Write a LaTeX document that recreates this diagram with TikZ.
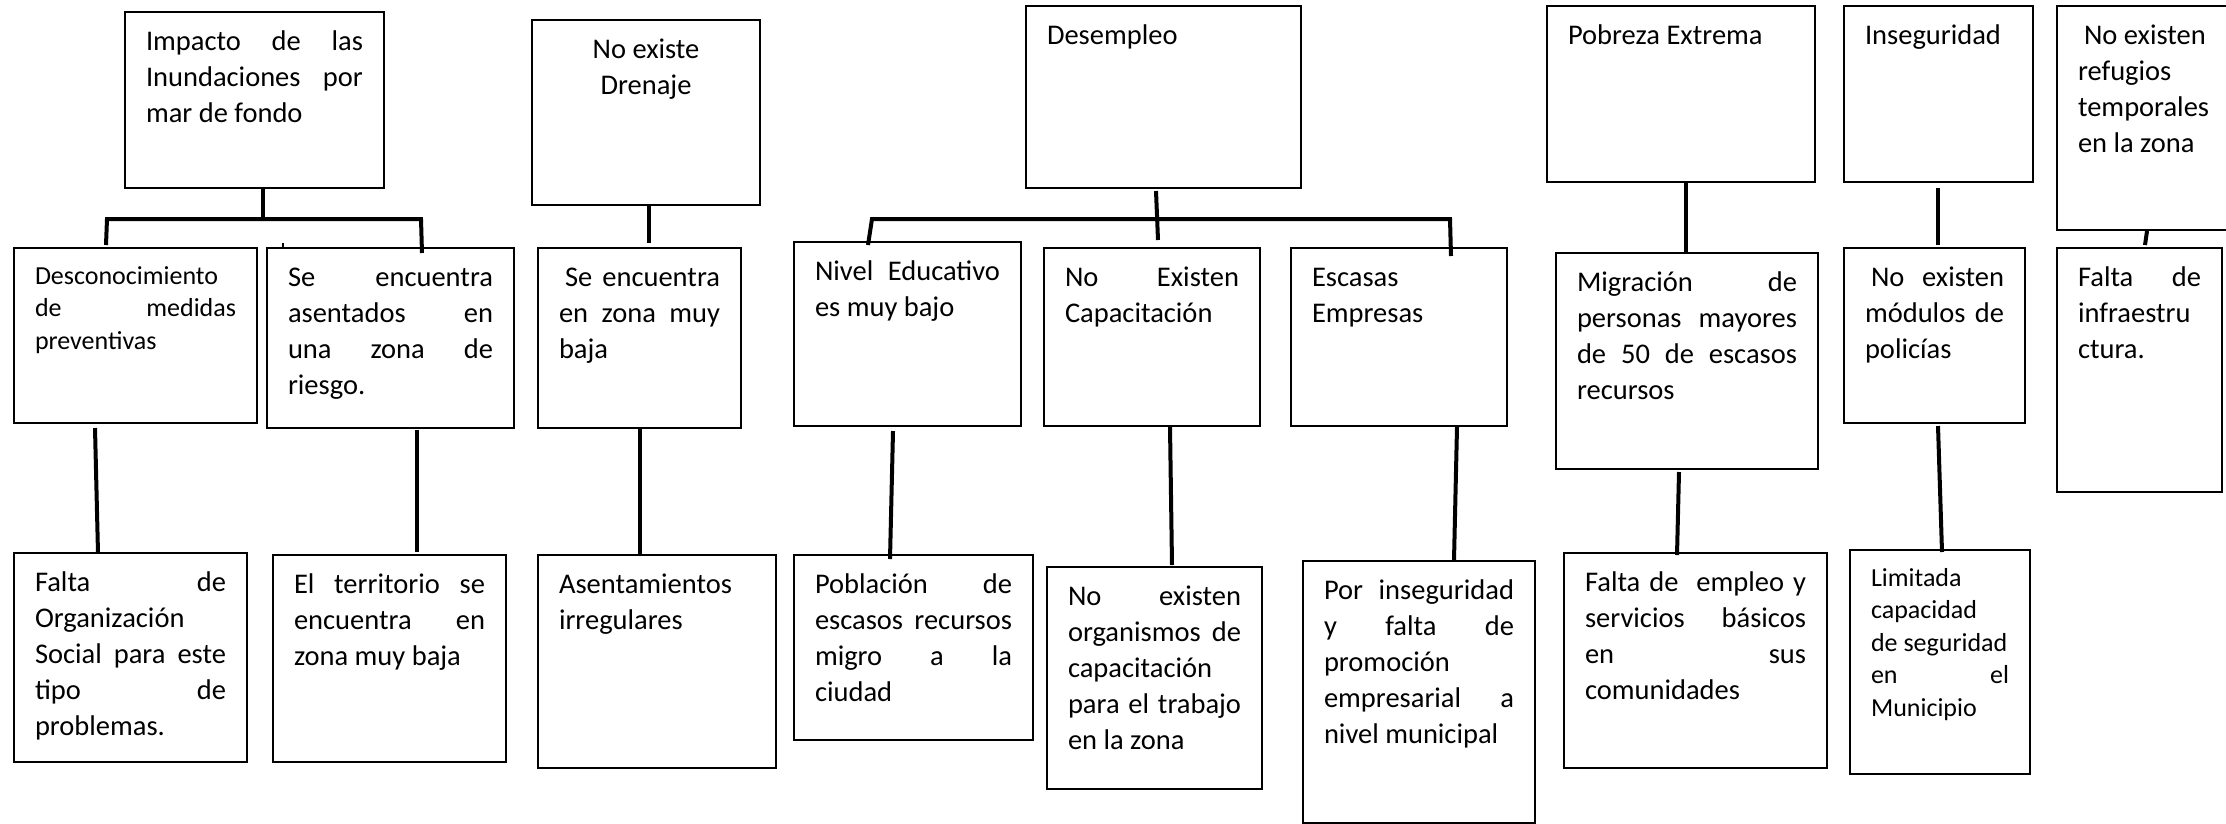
\documentclass[tikz,border=0pt]{standalone}
\usepackage{fontspec}
\setmainfont{Carlito}
\usetikzlibrary{calc}
\tikzset{
  caja/.style={draw, line width=2pt, anchor=north west, inner xsep=21pt, inner ysep=0pt, font=\fontsize{28.5}{36}\selectfont},
  cajachica/.style={caja, font=\fontsize{26}{32.5}\selectfont},
  rama/.style={line width=4pt},
  marca/.style={line width=1.5pt}
}
% justified line and top-aligned box body
\newcommand{\just}[1]{\makebox[\hsize][s]{#1}}
\newcommand{\cuerpo}[4][38.5pt]{\parbox[c][#3pt][t]{#2pt}{\raggedright\rule{0pt}{#1}#4}}

\begin{document}
\begin{tikzpicture}[x=1pt, y=-1pt]
  \useasboundingbox (0,0) rectangle (2226,823);
  \clip (0,0) rectangle (2226,823);
  \fill[white] (0,0) rectangle (2226,823);

  % top row
  \node[caja] (imp) at (124,11) {\cuerpo{217}{176}{\just{Impacto de las}\\ \just{Inundaciones por}\\ mar de fondo}};
  \node[caja] (dren) at (531,19) {\cuerpo{186}{185}{\centering No existe\\ Drenaje}};
  \node[caja] (desem) at (1025,5) {\cuerpo{233}{182}{Desempleo}};
  \node[caja] (pobr) at (1546,5) {\cuerpo{226}{176}{Pobreza Extrema}};
  \node[caja] (inseg) at (1843,5) {\cuerpo{147}{176}{Inseguridad}};
  \node[caja] (refug) at (2056,5) {\cuerpo{142}{224}{\hspace*{6pt}No existen\\ refugios\\ temporales\\ en la zona}};

  % middle row
  \node[cajachica] (desc) at (13,247) {\cuerpo[36pt]{201}{175}{Desconocimiento\\ \just{de medidas}\\ preventivas}};
  \node[caja] (asen) at (266,247) {\cuerpo{205}{180}{\just{Se encuentra}\\ \just{asentados en}\\ \just{una zona de}\\ riesgo.}};
  \node[caja] (zbaja) at (537,247) {\cuerpo{161}{180}{\just{\hspace*{6pt}Se encuentra}\\ \just{en zona muy}\\ baja}};
  \node[caja] (nivel) at (793,241) {\cuerpo{185}{184}{\just{Nivel Educativo}\\ es muy bajo}};
  \node[caja] (capac) at (1043,247) {\cuerpo{174}{178}{\just{No Existen}\\ Capacitación}};
  \node[caja] (escas) at (1290,247) {\cuerpo{174}{178}{Escasas\\ Empresas}};
  \node[caja] (migr) at (1555,252) {\cuerpo{220}{216}{\just{Migración de}\\ \just{personas mayores}\\ \just{de 50 de escasos}\\ recursos}};
  \node[caja] (modul) at (1843,247) {\cuerpo{139}{175}{\just{\hspace*{6pt}No existen}\\ \just{módulos de}\\ policías}};
  \node[caja] (infra) at (2056,247) {\cuerpo{123}{244}{\just{Falta de}\\ infraestru\\ ctura.}};

  % bottom row
  \node[caja] (orga) at (13,552) {\cuerpo{191}{209}{\just{Falta de}\\ Organización\\ \just{Social para este}\\ \just{tipo de}\\ problemas.}};
  \node[caja] (terr) at (272,554) {\cuerpo{191}{207}{\just{El territorio se}\\ \just{encuentra en}\\ zona muy baja}};
  \node[caja] (irreg) at (537,554) {\cuerpo{196}{213}{Asentamientos\\ irregulares}};
  \node[caja] (pobl) at (793,554) {\cuerpo{197}{185}{\just{Población de}\\ \just{escasos recursos}\\ \just{migro a la}\\ ciudad}};
  \node[caja] (organ) at (1046,566) {\cuerpo{173}{222}{\just{No existen}\\ \just{organismos de}\\ capacitación\\ \just{para el trabajo}\\ en la zona}};
  \node[caja] (promo) at (1302,560) {\cuerpo{190}{262}{\just{Por inseguridad}\\ \just{y falta de}\\ promoción\\ \just{empresarial a}\\ nivel municipal}};
  \node[caja] (empleo) at (1563,552) {\cuerpo{221}{215}{\just{Falta de\ \ empleo y}\\ \just{servicios básicos}\\ \just{en sus}\\ comunidades}};
  \node[cajachica] (limit) at (1849,549) {\cuerpo[36pt]{138}{224}{Limitada\\ capacidad\\ de seguridad\\ \just{en el}\\ Municipio}};

  % branch bars
  \coordinate (b1) at (107,219);
  \coordinate (b2) at (421,219);
  \coordinate (b3) at (872,219);
  \coordinate (b4) at (1450,219);
  \draw[rama] ($(imp.south)+(8.5,0)$) -- ($(imp.south)+(8.5,32)$);
  \draw[rama] ($(desc.north)+(-29.5,-2)$) -- (b1) -- (b2) -- ($(asen.north)+(31.5,6)$);
  \draw[marca] ($(asen.north)+(-107.5,-4)$) -- ($(asen.north)+(-107.5,0)$);
  \draw[rama] ($(desem.south)+(-7.5,2)$) -- ($(capac.north)+(6,-7)$);
  \draw[rama] ($(nivel.north)+(-39.5,4)$) -- (b3) -- (b4) -- ($(escas.north)+(52,9)$);

  % top to middle
  \draw[rama] ($(dren.south)+(3,0)$) -- ($(zbaja.north)+(9.5,-4)$);
  \draw[rama] ($(pobr.south)+(5,0)$) -- ($(migr.north)+(-1,0)$);
  \draw[rama] ($(inseg.south)+(-0.5,5)$) -- ($(modul.north)+(3.5,-2)$);
  \draw[rama] ($(refug.south)+(-2,0)$) -- ($(infra.north)+(5.5,-2)$);

  % middle to bottom
  \draw[rama] ($(desc.south)+(-40.5,4)$) -- ($(orga.north)+(-32.5,1)$);
  \draw[rama] ($(asen.south)+(26.5,1)$) -- ($(terr.north)+(27.5,-2)$);
  \draw[rama] ($(zbaja.south)+(0.5,-2)$) -- ($(irreg.north)+(-17,0)$);
  \draw[rama] ($(nivel.south)+(-14.5,4)$) -- ($(pobl.north)+(-23.5,5)$);
  \draw[rama] ($(capac.south)+(18,0)$) -- ($(organ.north)+(17.5,-1)$);
  \draw[rama] ($(escas.south)+(58,0)$) -- ($(promo.north)+(35,0)$);
  \draw[rama] ($(migr.south)+(-8,2)$) -- ($(empleo.north)+(-18.5,3)$);
  \draw[rama] ($(modul.south)+(3.5,2)$) -- ($(limit.north)+(2,3)$);
\end{tikzpicture}
\end{document}
